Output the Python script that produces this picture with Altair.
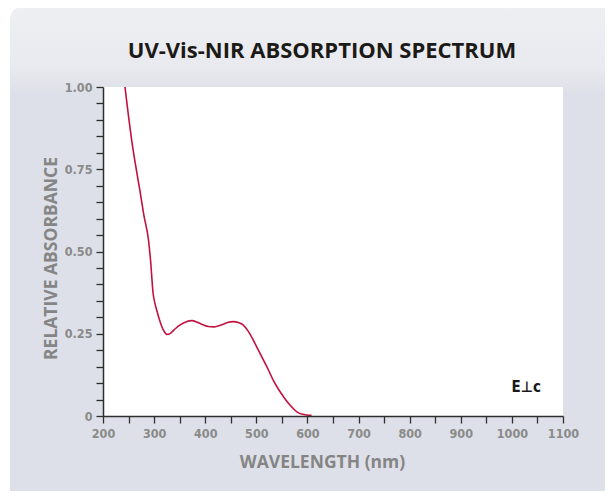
import altair as alt
import pandas as pd

# spectrum values
wavelength = [243, 250, 256, 264, 272, 280, 289, 293, 298, 302, 305, 310, 315, 320, 325, 330, 334,
              342, 351, 362, 374, 386, 396, 406, 416, 426, 435, 445, 455, 465, 474, 484, 494, 504,
              514, 524, 533, 543, 553, 562, 572, 580, 589, 598, 608]
absorb = [1.00, 0.91, 0.839, 0.76, 0.687, 0.61, 0.535, 0.474, 0.373, 0.34, 0.322, 0.295, 0.272,
          0.256, 0.248, 0.249, 0.254, 0.266, 0.277, 0.286, 0.290, 0.284, 0.277, 0.272, 0.271,
          0.274, 0.279, 0.285, 0.287, 0.284, 0.277, 0.258, 0.231, 0.200, 0.170, 0.139, 0.109,
          0.082, 0.059, 0.040, 0.023, 0.012, 0.006, 0.003, 0.002]

x_ticks = list(range(200, 1101, 50))
y_ticks = [round(i * 0.05, 2) for i in range(21)]

ann_x = [1028]
ann_y = [0.073]
ann_text = ["E\u22a5c"]

title_text = "UV-Vis-NIR ABSORPTION SPECTRUM"

df = pd.DataFrame({"wl": wavelength, "a": absorb})
ann = pd.DataFrame({"x": ann_x, "y": ann_y, "t": ann_text})

W, H = 460, 329
COND = "DejaVu Sans Condensed, Roboto, sans-serif"

xscale = alt.Scale(domain=[200, 1100], nice=False, zero=False)
yscale = alt.Scale(domain=[0, 1], nice=False)

xaxis = alt.Axis(
    values=x_ticks, format="d", labelExpr="datum.value % 100 == 0 ? datum.label : ''",
    title="WAVELENGTH (nm)", titleX=219, titleY=51, titleAlign="center",
    titleBaseline="alphabetic", labelOverlap=False, labelFlush=False, zindex=2)
yaxis = alt.Axis(
    values=y_ticks,
    labelExpr="datum.value == 0 ? '0' : (abs(datum.value*4 - round(datum.value*4)) < 0.001 ? format(datum.value, '.2f') : '')",
    title="RELATIVE ABSORBANCE", titleX=-47, titleY=171, titleAngle=-90,
    titleAlign="center", titleBaseline="alphabetic", labelOverlap=False,
    labelFlush=False, zindex=2)

panel = alt.Chart(pd.DataFrame({"k": [0]})).mark_rect(
    cornerRadius=12,
    color=alt.LinearGradient(
        gradient="linear", x1=0, y1=0, x2=0, y2=1,
        stops=[alt.GradientStop(offset=0, color="#eeeff3"),
               alt.GradientStop(offset=0.12, color="#e9eaef"),
               alt.GradientStop(offset=0.17, color="#dde0e8"),
               alt.GradientStop(offset=1, color="#dde0e8")]),
).encode(x=alt.value(-93), x2=alt.value(510), y=alt.value(-80), y2=alt.value(430))

plotbg = alt.Chart(pd.DataFrame({"k": [0]})).mark_rect(color="white").encode(
    x=alt.value(0), x2=alt.value(W), y=alt.value(0), y2=alt.value(H))

title = alt.Chart(pd.DataFrame({"t": [title_text]})).mark_text(
    font="Open Sans", fontWeight="bold", fontSize=22, color="#1c1a16", align="center",
    baseline="alphabetic").encode(x=alt.value(219), y=alt.value(-29), text="t:N")

line = alt.Chart(df).mark_line(color="#c2123f", strokeWidth=1.6, interpolate="monotone").encode(
    x=alt.X("wl:Q", scale=xscale, axis=xaxis),
    y=alt.Y("a:Q", scale=yscale, axis=yaxis),
)

label = alt.Chart(ann).mark_text(
    font=COND, fontWeight="bold", fontSize=15, color="#1a1a1a",
    align="center", baseline="alphabetic").encode(
    x=alt.X("x:Q", scale=xscale, axis=xaxis), y=alt.Y("y:Q", scale=yscale, axis=yaxis),
    text="t:N")

chart = alt.layer(panel, plotbg, title, line, label).properties(
    width=W, height=H,
    autosize=alt.AutoSizeParams(type="none"),
    padding={"left": 95, "top": 79, "right": 42, "bottom": 75},
    background="white",
).configure_view(stroke=None).configure_axis(
    domainColor="#2e2e2e", domainWidth=1.5, tickColor="#2e2e2e", tickWidth=1.3,
    tickSize=7, labelFont=COND, labelFontWeight="bold",
    labelFontSize=12.5, labelColor="#8a8a8a", labelPadding=4, grid=False,
    titleFont="Open Sans", titleFontWeight="bold", titleFontSize=17.5, titleColor="#858585",
)

chart.save("out.html", embed_options={"renderer": "svg", "actions": False})
